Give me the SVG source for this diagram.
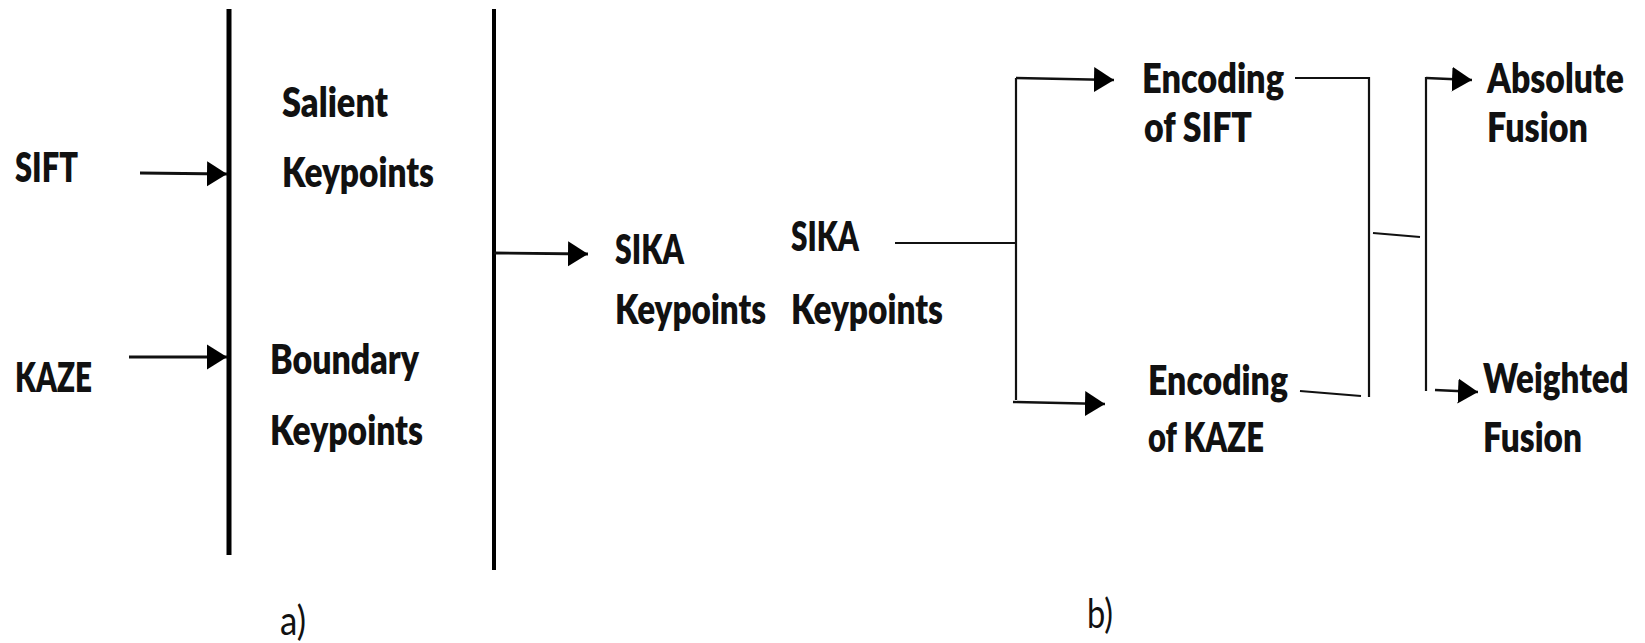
<svg xmlns="http://www.w3.org/2000/svg" width="1645" height="643" viewBox="0 0 1645 643">
<style>
.t{font-family:Lato,"Liberation Sans",sans-serif;font-weight:800;font-size:41px;fill:#111}
.c{font-family:Lato,"Liberation Sans",sans-serif;font-weight:400;font-size:41px;fill:#111}
.bar{stroke:#000;fill:none}
.ln{stroke:#111;stroke-width:2.2;fill:none}
.ar{stroke:#111;stroke-width:2.8;fill:none;marker-end:url(#ah)}
.ar2{stroke:#111;stroke-width:2.4;fill:none;marker-end:url(#ah)}
</style>
<defs>
<marker id="ah" markerUnits="userSpaceOnUse" markerWidth="21" markerHeight="26" refX="20" refY="12.5" orient="auto" viewBox="0 0 21 25">
<path d="M0,0 L20,12.5 L0,25 Z" fill="#000"/>
</marker>
</defs>
<rect width="1645" height="643" fill="#fff"/>
<g id="connectors">
<line class="bar" x1="229" y1="9" x2="229" y2="555" stroke-width="5"/>
<line class="bar" x1="494" y1="9" x2="494" y2="570" stroke-width="4"/>
<line class="ar" x1="140" y1="173" x2="227" y2="174"/>
<line class="ar" x1="129" y1="357" x2="227" y2="357"/>
<line class="ar" x1="494" y1="253" x2="588" y2="254"/>
<line class="ln" x1="895" y1="243" x2="1016" y2="243"/>
<line class="ln" x1="1016" y1="78" x2="1016" y2="400"/>
<line class="ar2" x1="1016" y1="78" x2="1114" y2="80"/>
<line class="ar2" x1="1013" y1="402" x2="1105" y2="404"/>
<line class="ln" x1="1295" y1="78" x2="1369" y2="78"/>
<line class="ln" x1="1369" y1="77" x2="1369" y2="397"/>
<line class="ln" x1="1300" y1="391" x2="1361" y2="396"/>
<line class="ln" x1="1373" y1="233" x2="1420" y2="237"/>
<line class="ln" x1="1426" y1="77" x2="1426" y2="391"/>
<line class="ar2" x1="1426" y1="78" x2="1472" y2="80"/>
<line class="ar2" x1="1435" y1="390" x2="1478" y2="392"/>
</g>
<g id="sift"><text class="t" x="15" y="182" textLength="63" lengthAdjust="spacingAndGlyphs">SIFT</text></g>
<g id="kaze"><text class="t" x="15" y="392" textLength="77" lengthAdjust="spacingAndGlyphs">KAZE</text></g>
<g id="salient"><text class="t" x="282" y="117" textLength="106" lengthAdjust="spacingAndGlyphs">Salient</text><text class="t" x="282" y="187" textLength="152" lengthAdjust="spacingAndGlyphs">Keypoints</text></g>
<g id="boundary"><text class="t" x="270" y="374" textLength="149" lengthAdjust="spacingAndGlyphs">Boundary</text><text class="t" x="270" y="445" textLength="153" lengthAdjust="spacingAndGlyphs">Keypoints</text></g>
<g id="sika1"><text class="t" x="615" y="264" textLength="69" lengthAdjust="spacingAndGlyphs">SIKA</text><text class="t" x="615" y="324" textLength="151" lengthAdjust="spacingAndGlyphs">Keypoints</text></g>
<g id="sika2"><text class="t" x="791" y="251" textLength="68" lengthAdjust="spacingAndGlyphs">SIKA</text><text class="t" x="791" y="324" textLength="152" lengthAdjust="spacingAndGlyphs">Keypoints</text></g>
<g id="enc-sift"><text class="t" x="1142" y="93" textLength="142" lengthAdjust="spacingAndGlyphs">Encoding</text><text class="t" x="1144" y="142" textLength="108" lengthAdjust="spacingAndGlyphs">of SIFT</text></g>
<g id="enc-kaze"><text class="t" x="1148" y="395" textLength="140" lengthAdjust="spacingAndGlyphs">Encoding</text><text class="t" x="1148" y="452" textLength="116" lengthAdjust="spacingAndGlyphs">of KAZE</text></g>
<g id="absolute"><text class="t" transform="translate(1487,93) scale(0.8,1)" x="0" y="0" textLength="171" lengthAdjust="spacingAndGlyphs">Absolute</text><text class="t" x="1487" y="142" textLength="101" lengthAdjust="spacingAndGlyphs">Fusion</text></g>
<g id="weighted"><text class="t" transform="translate(1483,393) scale(0.8,1)" x="0" y="0" textLength="182" lengthAdjust="spacingAndGlyphs">Weighted</text><text class="t" x="1483" y="452" textLength="99" lengthAdjust="spacingAndGlyphs">Fusion</text></g>
<g id="label-a"><text class="c" x="280" y="635" textLength="26" lengthAdjust="spacingAndGlyphs">a)</text></g>
<g id="label-b"><text class="c" x="1087" y="628" textLength="26" lengthAdjust="spacingAndGlyphs">b)</text></g>
</svg>
